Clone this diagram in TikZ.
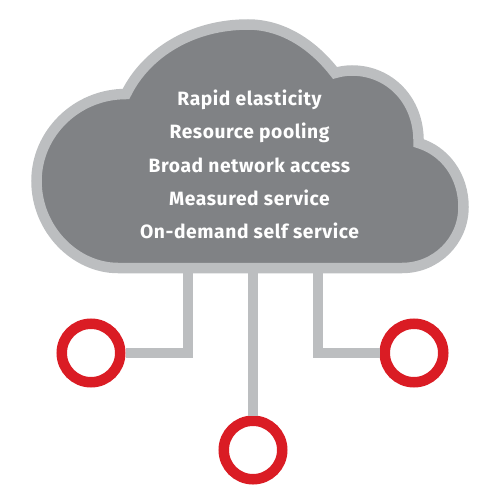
\documentclass[tikz,border=0pt]{standalone}
\usepackage{fontspec}
\setmainfont[LetterSpace=3]{Fira Sans}
\definecolor{cloudgray}{HTML}{808285}
\definecolor{linegray}{HTML}{BCBEC0}
\definecolor{hostred}{HTML}{DA1C24}

\begin{document}
\begin{tikzpicture}[
  x=0.2mm, y=-0.2mm,
  hostring/.style={
    circle, draw=hostred, line width=2.1mm, fill=white,
    minimum size=11.7mm, inner sep=0pt
  },
  link/.style={draw=linegray, line width=2mm},
  feature/.style={font=\fontsize{10.95}{13}\selectfont\bfseries, text=white, anchor=base},
]

\useasboundingbox (0,0) rectangle (500,500);

% Anchors under the cloud
\coordinate (leftdrop) at (188,268);
\coordinate (middrop) at (253,268);
\coordinate (rightdrop) at (318,268);

% Hosts
\node[hostring] (hostleft) at (91,353) {};
\node[hostring] (hostmid) at (253,450) {};
\node[hostring] (hostright) at (414,353) {};

% Links from cloud to hosts
\draw[link] (leftdrop) |- (hostleft.east);
\draw[link] (middrop) -- (hostmid.north);
\draw[link] (rightdrop) |- (hostright.west);

% Cloud
\draw[draw=linegray, fill=cloudgray, line width=2.1mm, miter limit=4]
  (118,268) -- (402,268)
  .. controls (436,268) and (463.5,241) .. (463.5,207)
  .. controls (463.5,176) and (445,151) .. (418.5,143)
  .. controls (419.5,100) and (389,70.5) .. (352,70.5)
  .. controls (346,70.5) and (340,71.5) .. (335,73)
  .. controls (311,42) and (280,24.5) .. (248,24.5)
  .. controls (192,24.5) and (146,53) .. (126,94)
  .. controls (76,94) and (36.5,134) .. (36.5,181)
  .. controls (36.5,229) and (75,268) .. (118,268)
  -- cycle;

% Service list
\node[feature] (rapid) at (249.5,105) {Rapid elasticity};
\node[feature] (pooling) at (249.5,138.5) {Resource pooling};
\node[feature] (network) at (249.5,172) {Broad network access};
\node[feature] (measured) at (249.5,205.5) {Measured service};
\node[feature] (ondemand) at (249.5,238.5) {On-demand self service};

\end{tikzpicture}
\end{document}
